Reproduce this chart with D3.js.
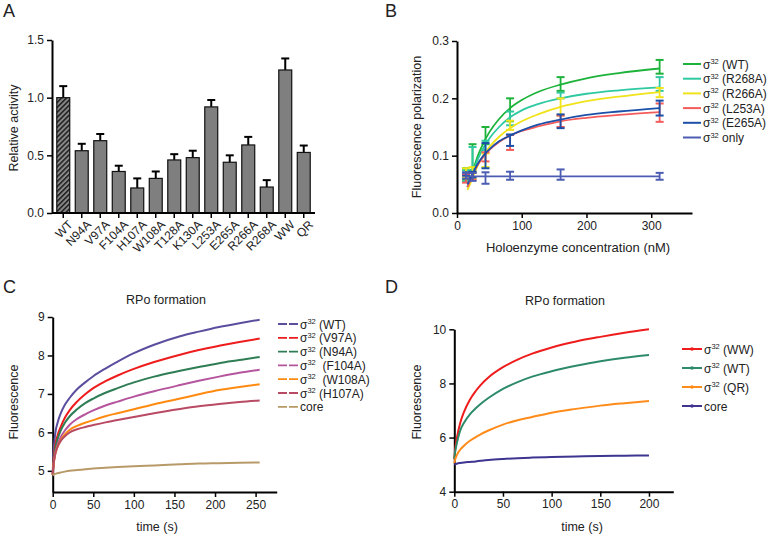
<!DOCTYPE html>
<html>
<head>
<meta charset="utf-8">
<script src="https://cdn.jsdelivr.net/npm/d3@7"></script>
<style>
  body { margin: 0; background: #fff; }
  svg { font-family: "Liberation Sans", Arial, sans-serif; }
  .axis path, .axis line { stroke: #000; }
  .axis text { font-size: 12px; fill: #222; }
</style>
</head>
<body>
<svg width="771" height="536"></svg>
<script>
// ---- Panel A data: relative activity
let mutantsA = ["WT", "N94A", "V97A", "F104A", "H107A", "W108A", "T128A", "K130A", "L253A", "E265A", "R266A", "R268A", "WW", "QR"];
let activityA = [1.0, 0.54, 0.627, 0.36, 0.217, 0.30, 0.46, 0.48, 0.92, 0.44, 0.59, 0.225, 1.24, 0.525];
let activityErrA = [1.10, 0.60, 0.685, 0.41, 0.30, 0.36, 0.51, 0.54, 0.98, 0.50, 0.66, 0.285, 1.34, 0.585];
let ticksA = [0, 0.5, 1.0, 1.5];

// ---- Panel B data: fluorescence polarization
let seriesB = ["WT", "R268A", "R266A", "L253A", "E265A", "only"];
let colorsB = ["#1db33a", "#2ec9a0", "#f0e31a", "#f45c5c", "#1b4fa8", "#4c5cb2"];
let concB = [14, 24, 44, 82, 160, 313];
let meanB = [
    [0.068, 0.095, 0.135, 0.18, 0.225, 0.255],
    [0.065, 0.095, 0.118, 0.165, 0.205, 0.225],
    [0.07, 0.07, 0.092, 0.153, 0.185, 0.21],
    [0.06, 0.064, 0.098, 0.123, 0.16, 0.175],
    [0.068, 0.067, 0.10, 0.127, 0.16, 0.183],
    [0.065, 0.063, 0.061, 0.065, 0.067, 0.064]
];
let errB = [
    [0.01, 0.025, 0.015, 0.02, 0.012, 0.012],
    [0.01, 0.02, 0.008, 0.012, 0.005, 0.012],
    [0.008, 0.01, 0.012, 0.008, 0.015, 0.008],
    [0.007, 0.006, 0.008, 0.013, 0.01, 0.016],
    [0.003, 0.005, 0.022, 0.01, 0.012, 0.013],
    [0.005, 0.007, 0.01, 0.007, 0.009, 0.006]
];
let fitConcB = [16, 20, 25, 30, 40, 50, 65, 82, 100, 125, 160, 200, 250, 313];
let fitB = [
    [0.045, 0.057, 0.075, 0.093, 0.12, 0.141, 0.164, 0.183, 0.197, 0.211, 0.224, 0.235, 0.244, 0.252],
    [0.045, 0.056, 0.072, 0.088, 0.112, 0.13, 0.15, 0.167, 0.179, 0.19, 0.20, 0.208, 0.214, 0.219],
    [0.04, 0.05, 0.064, 0.078, 0.099, 0.115, 0.133, 0.148, 0.16, 0.172, 0.185, 0.195, 0.203, 0.211],
    [0.045, 0.055, 0.068, 0.08, 0.097, 0.11, 0.124, 0.135, 0.143, 0.151, 0.16, 0.166, 0.171, 0.176],
    [0.05, 0.058, 0.07, 0.082, 0.099, 0.111, 0.125, 0.135, 0.144, 0.154, 0.163, 0.171, 0.177, 0.183],
    [0.064, 0.064, 0.064, 0.064, 0.064, 0.064, 0.064, 0.064, 0.064, 0.064, 0.064, 0.064, 0.064, 0.064]
];

// ---- Panel C data: RPo formation kinetics
let seriesC = ["(WT)", "(V97A)", "(N94A)", " (F104A)", " (W108A)", "(H107A)", "core"];
let colorsC = ["#5a4f9e", "#ee1c1c", "#2e7d55", "#b5559e", "#ff8a10", "#b84a64", "#b89a68"];
let timeC = [0, 1, 3, 6, 10, 15, 21, 30, 40, 50, 65, 80, 100, 125, 157, 180, 205, 230, 255];
let valuesC = [
    [4.95, 5.45, 5.95, 6.25, 6.5, 6.72, 6.9, 7.12, 7.3, 7.46, 7.66, 7.84, 8.06, 8.28, 8.5, 8.62, 8.74, 8.84, 8.93],
    [4.9, 5.25, 5.65, 5.92, 6.15, 6.38, 6.58, 6.8, 6.99, 7.15, 7.33, 7.48, 7.65, 7.83, 8.02, 8.14, 8.25, 8.35, 8.44],
    [4.9, 5.2, 5.55, 5.82, 6.05, 6.25, 6.42, 6.6, 6.76, 6.88, 7.03, 7.15, 7.3, 7.45, 7.6, 7.7, 7.8, 7.88, 7.96],
    [4.9, 5.15, 5.45, 5.68, 5.88, 6.05, 6.2, 6.35, 6.47, 6.57, 6.7, 6.8, 6.93, 7.07, 7.23, 7.34, 7.45, 7.55, 7.63],
    [4.9, 5.15, 5.42, 5.63, 5.8, 5.95, 6.07, 6.17, 6.25, 6.32, 6.42, 6.5, 6.6, 6.73, 6.88, 6.99, 7.1, 7.18, 7.25],
    [4.9, 5.15, 5.42, 5.62, 5.78, 5.9, 6.0, 6.08, 6.14, 6.19, 6.26, 6.32, 6.4, 6.5, 6.61, 6.68, 6.74, 6.79, 6.83],
    [4.88, 4.9, 4.92, 4.94, 4.96, 4.98, 5.0, 5.02, 5.04, 5.06, 5.08, 5.1, 5.12, 5.14, 5.17, 5.19, 5.2, 5.21, 5.22]
];

// ---- Panel D data
let seriesD = ["(WW)", "(WT)", "(QR)", "core"];
let colorsD = ["#ee1c1c", "#2e8b6a", "#ff8c1a", "#3d3590"];
let timeD = [0, 1, 3, 6, 10, 16, 22, 27, 35, 50, 65, 80, 100, 125, 150, 175, 200];
let valuesD = [
    [5.2, 5.6, 6.05, 6.53, 6.95, 7.4, 7.72, 7.94, 8.22, 8.6, 8.88, 9.1, 9.33, 9.55, 9.72, 9.87, 10.0],
    [5.2, 5.5, 5.85, 6.25, 6.55, 6.86, 7.08, 7.24, 7.46, 7.8, 8.05, 8.25, 8.45, 8.65, 8.82, 8.95, 9.05],
    [5.05, 5.2, 5.38, 5.55, 5.7, 5.88, 6.02, 6.12, 6.26, 6.48, 6.64, 6.76, 6.92, 7.06, 7.18, 7.27, 7.35],
    [5.0, 5.02, 5.04, 5.06, 5.08, 5.1, 5.12, 5.14, 5.17, 5.21, 5.24, 5.26, 5.28, 5.3, 5.32, 5.33, 5.34]
];

let svg = d3.select("svg");

// hatch pattern for WT bar
let defs = svg.append("defs");
defs.append("pattern")
    .attr("id", "hatch")
    .attr("patternUnits", "userSpaceOnUse")
    .attr("width", 3.5).attr("height", 3.5)
    .attr("patternTransform", "rotate(45)")
    .call(p => {
        p.append("rect").attr("width", 3.5).attr("height", 3.5).attr("fill", "#8a8a8a");
        p.append("rect").attr("width", 1.6).attr("height", 3.5).attr("fill", "#222");
    });

function styleAxis(g) {
    g.attr("class", "axis");
    g.select(".domain").attr("stroke-width", 2);
    g.selectAll(".tick line").attr("stroke-width", 1.5);
}

function panelLetter(x, y, t) {
    svg.append("text").attr("x", x).attr("y", y)
        .attr("font-size", 18).attr("fill", "#222").text(t);
}

// sigma with superscript 32 then suffix
function sigmaText(t, suffix) {
    t.append("tspan").text("σ");
    t.append("tspan").attr("font-size", 7.5).attr("dy", -4.5).text("32");
    t.append("tspan").attr("dy", 4.5).text(suffix);
}

// ================= Panel A =================
panelLetter(3, 17, "A");
let xA = d3.scaleBand().domain(mutantsA).range([54, 313]).paddingInner(0.3).paddingOuter(0.15);
let yA = d3.scaleLinear().domain([0, 1.5]).range([213, 40]);

svg.append("g").attr("transform", "translate(52,0)")
    .call(d3.axisLeft(yA).tickValues(ticksA).tickFormat(d3.format(".1f")).tickSize(5).tickSizeOuter(0))
    .call(styleAxis);

let barsA = svg.append("g");
barsA.selectAll("line.err").data(mutantsA).enter().append("line")
    .attr("x1", d => xA(d) + xA.bandwidth() / 2)
    .attr("x2", d => xA(d) + xA.bandwidth() / 2)
    .attr("y1", (d, i) => yA(activityA[i]))
    .attr("y2", (d, i) => yA(activityErrA[i]))
    .attr("stroke", "#000").attr("stroke-width", 2);
barsA.selectAll("line.cap").data(mutantsA).enter().append("line")
    .attr("x1", d => xA(d) + xA.bandwidth() / 2 - 4)
    .attr("x2", d => xA(d) + xA.bandwidth() / 2 + 4)
    .attr("y1", (d, i) => yA(activityErrA[i]))
    .attr("y2", (d, i) => yA(activityErrA[i]))
    .attr("stroke", "#000").attr("stroke-width", 2);
barsA.selectAll("rect").data(mutantsA).enter().append("rect")
    .attr("x", d => xA(d))
    .attr("y", (d, i) => yA(activityA[i]))
    .attr("width", xA.bandwidth())
    .attr("height", (d, i) => yA(0) - yA(activityA[i]))
    .attr("fill", (d, i) => i === 0 ? "url(#hatch)" : "#7f7f7f")
    .attr("stroke", "#111").attr("stroke-width", 1.2);

let xAxisA = svg.append("g").attr("transform", "translate(0,213)")
    .call(d3.axisBottom(xA).tickSize(5).tickSizeOuter(0))
    .call(styleAxis);
xAxisA.select(".domain").attr("d", "M52,0H315");
xAxisA.selectAll(".tick text")
    .attr("text-anchor", "end")
    .attr("dx", "0.2em").attr("dy", "0.5em")
    .attr("transform", "rotate(-45) translate(-4,2)")
    .attr("font-size", 11.5);

svg.append("text")
    .attr("transform", "translate(18,128) rotate(-90)")
    .attr("text-anchor", "middle").attr("font-size", 12.5).attr("fill", "#222")
    .text("Relative activity");

// ================= Panel B =================
panelLetter(385, 17, "B");
let xB = d3.scaleLinear().domain([0, 363]).range([457, 692]);
let yB = d3.scaleLinear().domain([0, 0.3]).range([213, 41]);

svg.append("g").attr("transform", "translate(0,213)")
    .call(d3.axisBottom(xB).tickValues([0, 100, 200, 300]).tickFormat(d3.format("d")).tickSize(5).tickSizeOuter(0))
    .call(styleAxis);
svg.append("g").attr("transform", "translate(457,0)")
    .call(d3.axisLeft(yB).tickValues([0, 0.1, 0.2, 0.3]).tickFormat(d3.format(".1f")).tickSize(5).tickSizeOuter(0))
    .call(styleAxis);

let lineB = d3.line().x(d => xB(d[0])).y(d => yB(d[1])).curve(d3.curveMonotoneX);
seriesB.forEach((s, k) => {
    let g = svg.append("g");
    let pts = k === 5 ? [[concB[0], fitB[5][0]], [concB[5], fitB[5][13]]] : fitConcB.map((c, i) => [c, fitB[k][i]]);
    g.append("path").attr("d", lineB(pts))
        .attr("fill", "none").attr("stroke", colorsB[k]).attr("stroke-width", 1.8);
    concB.forEach((c, i) => {
        let lo = meanB[k][i] - errB[k][i], hi = meanB[k][i] + errB[k][i];
        g.append("line").attr("x1", xB(c)).attr("x2", xB(c)).attr("y1", yB(lo)).attr("y2", yB(hi))
            .attr("stroke", colorsB[k]).attr("stroke-width", 1.8);
        [lo, hi].forEach(v => g.append("line")
            .attr("x1", xB(c) - 4).attr("x2", xB(c) + 4).attr("y1", yB(v)).attr("y2", yB(v))
            .attr("stroke", colorsB[k]).attr("stroke-width", 2));
    });
});

let legB = svg.append("g");
seriesB.forEach((s, k) => {
    let y = 64 + k * 14.7;
    legB.append("line").attr("x1", 683).attr("x2", 701).attr("y1", y).attr("y2", y)
        .attr("stroke", colorsB[k]).attr("stroke-width", 2);
    let t = legB.append("text").attr("x", 703).attr("y", y + 4.5).attr("font-size", 12).attr("fill", "#222");
    sigmaText(t, s === "only" ? " only" : " (" + s + ")");
});

svg.append("text").attr("x", 578).attr("y", 252).attr("text-anchor", "middle")
    .attr("font-size", 13).attr("fill", "#222").text("Holoenzyme concentration (nM)");
svg.append("text").attr("transform", "translate(421,127) rotate(-90)")
    .attr("text-anchor", "middle").attr("font-size", 12.5).attr("fill", "#222")
    .text("Fluorescence polarization");

// ================= Panel C =================
panelLetter(3, 293, "C");
let xC = d3.scaleLinear().domain([0, 276]).range([52.7, 276.7]);
let yC = d3.scaleLinear().domain([4.45, 9]).range([492, 317]);

svg.append("g").attr("transform", "translate(0,492)")
    .call(d3.axisBottom(xC).tickValues([0, 50, 100, 150, 200, 250]).tickFormat(d3.format("d")).tickSize(5).tickSizeOuter(0))
    .call(styleAxis);
svg.append("g").attr("transform", "translate(52.7,0)")
    .call(d3.axisLeft(yC).tickValues([5, 6, 7, 8, 9]).tickFormat(d3.format("d")).tickSize(5).tickSizeOuter(0))
    .call(styleAxis);

let lineC = d3.line().x(d => xC(d[0])).y(d => yC(d[1])).curve(d3.curveMonotoneX);
seriesC.forEach((s, k) => {
    svg.append("path").attr("d", lineC(timeC.map((t, i) => [t, valuesC[k][i]])))
        .attr("fill", "none").attr("stroke", colorsC[k]).attr("stroke-width", 2);
});

let legC = svg.append("g");
seriesC.forEach((s, k) => {
    let y = 324 + k * 13.8;
    legC.append("line").attr("x1", 278).attr("x2", 298).attr("y1", y).attr("y2", y)
        .attr("stroke", colorsC[k]).attr("stroke-width", 1.8).attr("stroke-dasharray", "9,2");
    let t = legC.append("text").attr("x", 300).attr("y", y + 4.5).attr("font-size", 12).attr("fill", "#222");
    if (s === "core") { t.text("core"); return; }
    sigmaText(t, s.startsWith(" ") ? "\u00a0\u00a0" + s.trim() : " " + s);
});

svg.append("text").attr("x", 166).attr("y", 304).attr("text-anchor", "middle")
    .attr("font-size", 12.5).attr("fill", "#222").text("RPo formation");
svg.append("text").attr("x", 157).attr("y", 531).attr("text-anchor", "middle")
    .attr("font-size", 12.5).attr("fill", "#222").text("time (s)");
svg.append("text").attr("transform", "translate(18,402) rotate(-90)")
    .attr("text-anchor", "middle").attr("font-size", 12.5).attr("fill", "#222")
    .text("Fluorescence");

// ================= Panel D =================
panelLetter(385, 293, "D");
let xD = d3.scaleLinear().domain([0, 225]).range([454.3, 673.3]);
let yD = d3.scaleLinear().domain([4, 10]).range([491.7, 329.3]);

svg.append("g").attr("transform", "translate(0,491.7)")
    .call(d3.axisBottom(xD).tickValues([0, 50, 100, 150, 200]).tickFormat(d3.format("d")).tickSize(5).tickSizeOuter(0))
    .call(styleAxis);
svg.append("g").attr("transform", "translate(454.3,0)")
    .call(d3.axisLeft(yD).tickValues([4, 6, 8, 10]).tickFormat(d3.format("d")).tickSize(5).tickSizeOuter(0))
    .call(styleAxis);

let lineD = d3.line().x(d => xD(d[0])).y(d => yD(d[1])).curve(d3.curveMonotoneX);
seriesD.forEach((s, k) => {
    svg.append("path").attr("d", lineD(timeD.map((t, i) => [t, valuesD[k][i]])))
        .attr("fill", "none").attr("stroke", colorsD[k]).attr("stroke-width", 2);
});

let legD = svg.append("g");
seriesD.forEach((s, k) => {
    let y = 349 + k * 19;
    legD.append("line").attr("x1", 682).attr("x2", 702).attr("y1", y).attr("y2", y)
        .attr("stroke", colorsD[k]).attr("stroke-width", 2);
    legD.append("circle").attr("cx", 692).attr("cy", y).attr("r", 1.8).attr("fill", colorsD[k]);
    let t = legD.append("text").attr("x", 704).attr("y", y + 4.5).attr("font-size", 12).attr("fill", "#222");
    if (s === "core") { t.text("core"); return; }
    sigmaText(t, " " + s);
});

svg.append("text").attr("x", 565).attr("y", 305).attr("text-anchor", "middle")
    .attr("font-size", 12.5).attr("fill", "#222").text("RPo formation");
svg.append("text").attr("x", 582).attr("y", 531).attr("text-anchor", "middle")
    .attr("font-size", 12.5).attr("fill", "#222").text("time (s)");
svg.append("text").attr("transform", "translate(421,402) rotate(-90)")
    .attr("text-anchor", "middle").attr("font-size", 12.5).attr("fill", "#222")
    .text("Fluorescence");
</script>
</body>
</html>
